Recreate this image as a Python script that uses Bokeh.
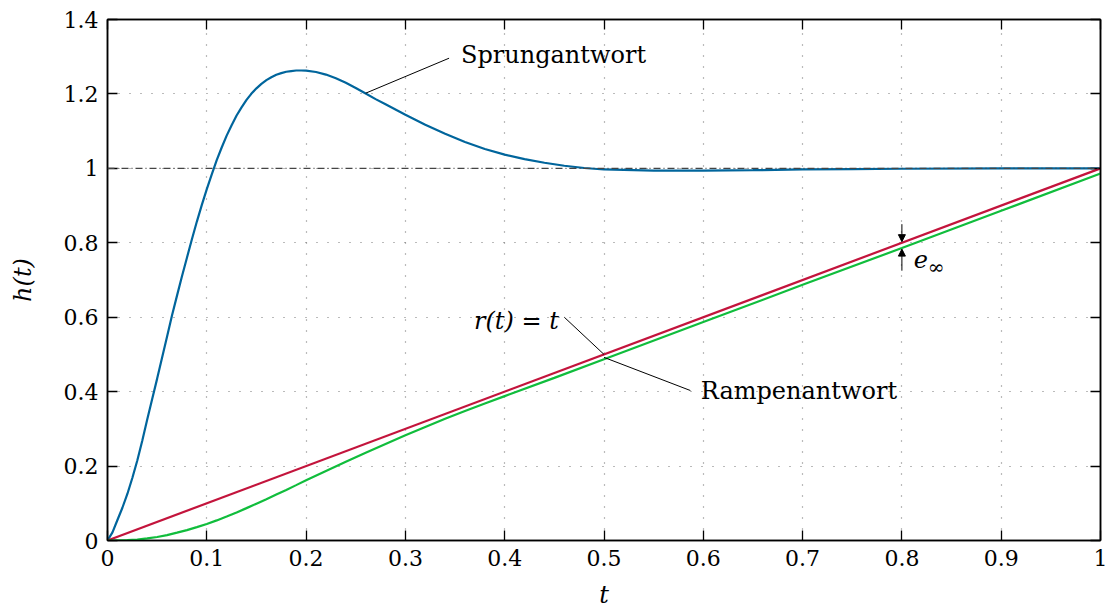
from bokeh.plotting import figure
from bokeh.models import (Range1d, FixedTicker, LinearAxis, Span, Label, Arrow,
                          NormalHead)
from bokeh.embed import file_html
from bokeh.resources import INLINE

# ---- data ----
step_t = [0, 0.005, 0.01, 0.015, 0.02, 0.025, 0.03, 0.035, 0.04, 0.045, 0.05, 0.055,
          0.06, 0.065, 0.07, 0.075, 0.08, 0.085, 0.09, 0.095, 0.10, 0.105, 0.11, 0.115,
          0.12, 0.125, 0.13, 0.135, 0.14, 0.145, 0.15, 0.155, 0.16, 0.165, 0.17, 0.175,
          0.18, 0.185, 0.19, 0.195, 0.20, 0.21, 0.22, 0.23, 0.24, 0.25, 0.26, 0.27,
          0.28, 0.29, 0.30, 0.32, 0.34, 0.36, 0.38, 0.40, 0.42, 0.44, 0.46, 0.48,
          0.50, 0.55, 0.60, 0.65, 0.70, 0.75, 0.80, 0.90, 1.0]
step_h = [0, 0.022, 0.055, 0.088, 0.125, 0.168, 0.215, 0.268, 0.325, 0.38, 0.435, 0.492,
          0.548, 0.605, 0.658, 0.71, 0.76, 0.8095, 0.857, 0.902, 0.944, 0.984, 1.022, 1.056,
          1.088, 1.116, 1.142, 1.164, 1.184, 1.201, 1.215, 1.227, 1.237, 1.245, 1.2515, 1.256,
          1.2595, 1.2615, 1.263, 1.263, 1.2625, 1.259, 1.252, 1.242, 1.230, 1.216, 1.201, 1.186,
          1.172, 1.158, 1.144, 1.117, 1.093, 1.071, 1.052, 1.037, 1.025, 1.015, 1.007, 1.001,
          0.997, 0.994, 0.994, 0.995, 0.997, 0.998, 0.999, 1.0, 1.0]

ramp_t = [0, 1.0]
ramp_r = [0, 1.0]

resp_t = [0, 0.01, 0.02, 0.03, 0.04, 0.05, 0.06, 0.07, 0.08, 0.09, 0.10, 0.11, 0.12,
          0.13, 0.14, 0.15, 0.16, 0.17, 0.18, 0.19, 0.20, 0.22, 0.24, 0.26, 0.28, 0.30,
          0.32, 0.34, 0.36, 0.38, 0.40, 0.45, 0.50, 0.60, 0.70, 0.80, 0.90, 1.0]
resp_h = [0, 0.0003, 0.001, 0.0025, 0.0055, 0.0095, 0.0145, 0.021, 0.028, 0.036, 0.0445,
          0.054, 0.0645, 0.0755, 0.087, 0.099, 0.111, 0.1235, 0.136, 0.1488, 0.1617, 0.187,
          0.2116, 0.236, 0.2596, 0.2828, 0.305, 0.327, 0.348, 0.368, 0.388, 0.437, 0.487,
          0.587, 0.687, 0.786, 0.886, 0.986]

x_ticks = [0, 0.1, 0.2, 0.3, 0.4, 0.5, 0.6, 0.7, 0.8, 0.9, 1]
x_tick_labels = ["0", "0.1", "0.2", "0.3", "0.4", "0.5", "0.6", "0.7", "0.8", "0.9", "1"]
y_ticks = [0, 0.2, 0.4, 0.6, 0.8, 1, 1.2, 1.4]
y_tick_labels = ["0", "0.2", "0.4", "0.6", "0.8", "1", "1.2", "1.4"]

FONT = "DejaVu Serif"
BLUE = "#00659c"
RED = "#c3143c"
GREEN = "#10bd3c"

p = figure(width=1109, height=611, x_range=Range1d(0, 1), y_range=Range1d(0, 1.4),
           output_backend="svg", toolbar_location=None,
           min_border_left=107, min_border_right=9, min_border_top=19, min_border_bottom=69)
p.outline_line_color = "black"
p.outline_line_width = 1.5
p.background_fill_color = "white"
p.border_fill_color = "white"

def style_axis(ax, ticks, labels, show_labels=True):
    ax.ticker = FixedTicker(ticks=ticks)
    ax.major_tick_in = 10
    ax.major_tick_out = 0
    ax.minor_tick_line_color = None
    ax.major_tick_line_color = "black"
    ax.major_tick_line_width = 1.3
    ax.axis_line_color = "black"
    ax.axis_line_width = 1.5
    ax.major_label_text_font = FONT
    ax.major_label_text_color = "black"
    if show_labels:
        ax.major_label_overrides = {t: l for t, l in zip(ticks, labels)}
        ax.major_label_text_font_size = "22px"
        ax.major_label_standoff = 9
    else:
        ax.major_label_overrides = {t: "" for t in ticks}
        ax.major_label_text_font_size = "1px"
        ax.major_label_standoff = 0

style_axis(p.xaxis[0], x_ticks, x_tick_labels)
style_axis(p.yaxis[0], y_ticks, y_tick_labels)
p.xaxis[0].axis_label = "t"
p.yaxis[0].axis_label = "h(t)"
for ax in (p.xaxis[0], p.yaxis[0]):
    ax.axis_label_text_font = FONT
    ax.axis_label_text_font_style = "italic"
    ax.axis_label_text_font_size = "24px"
    ax.axis_label_text_color = "black"
p.xaxis[0].axis_label_standoff = 12
p.yaxis[0].axis_label_standoff = 24

top_ax = LinearAxis()
right_ax = LinearAxis()
style_axis(top_ax, x_ticks, x_tick_labels, show_labels=False)
style_axis(right_ax, y_ticks, y_tick_labels, show_labels=False)
p.add_layout(top_ax, "above")
p.add_layout(right_ax, "right")

for g in (p.xgrid[0], p.ygrid[0]):
    g.grid_line_color = "#777777"
    g.grid_line_dash = "1 10"
    g.grid_line_width = 1.2
p.xgrid[0].ticker = FixedTicker(ticks=x_ticks)
p.ygrid[0].ticker = FixedTicker(ticks=y_ticks)

p.line(step_t, step_h, line_color=BLUE, line_width=2.2)
p.line(ramp_t, ramp_r, line_color=RED, line_width=2.2)
p.line(resp_t, resp_h, line_color=GREEN, line_width=2.2)

p.add_layout(Span(location=1, dimension="width", line_color="#444444",
                  line_dash="7 3 1 3", line_width=1.2))

# leader lines
p.line([0.260, 0.344], [1.202, 1.296], line_color="black", line_width=1)
p.line([0.460, 0.500], [0.600, 0.500], line_color="black", line_width=1)
p.line([0.500, 0.587], [0.492, 0.403], line_color="black", line_width=1)

p.add_layout(Label(x=0.356, y=1.305, text="Sprungantwort", text_font=FONT,
                   text_font_size="24px", text_baseline="middle", text_color="black"))
p.add_layout(Label(x=0.4545, y=0.5905, text="r(t) = t", text_font=FONT,
                   text_font_style="italic", text_align="right",
                   text_font_size="24px", text_baseline="middle", text_color="black"))
p.add_layout(Label(x=0.5975, y=0.403, text="Rampenantwort", text_font=FONT,
                   text_font_size="24px", text_baseline="middle", text_color="black"))
p.add_layout(Label(x=0.812, y=0.756, text="e", text_font=FONT, text_font_style="italic",
                   text_font_size="24px", text_baseline="middle", text_color="black"))
p.add_layout(Label(x=0.826, y=0.736, text="∞", text_font=FONT,
                   text_font_size="20px", text_baseline="middle", text_color="black"))

p.add_layout(Arrow(end=NormalHead(size=7, fill_color="black", line_color="black"),
                   x_start=0.8, y_start=0.85, x_end=0.8, y_end=0.803,
                   line_color="black", line_width=1))
p.add_layout(Arrow(end=NormalHead(size=7, fill_color="black", line_color="black"),
                   x_start=0.8, y_start=0.725, x_end=0.8, y_end=0.783,
                   line_color="black", line_width=1))

open("out.html", "w").write(file_html(p, INLINE))
